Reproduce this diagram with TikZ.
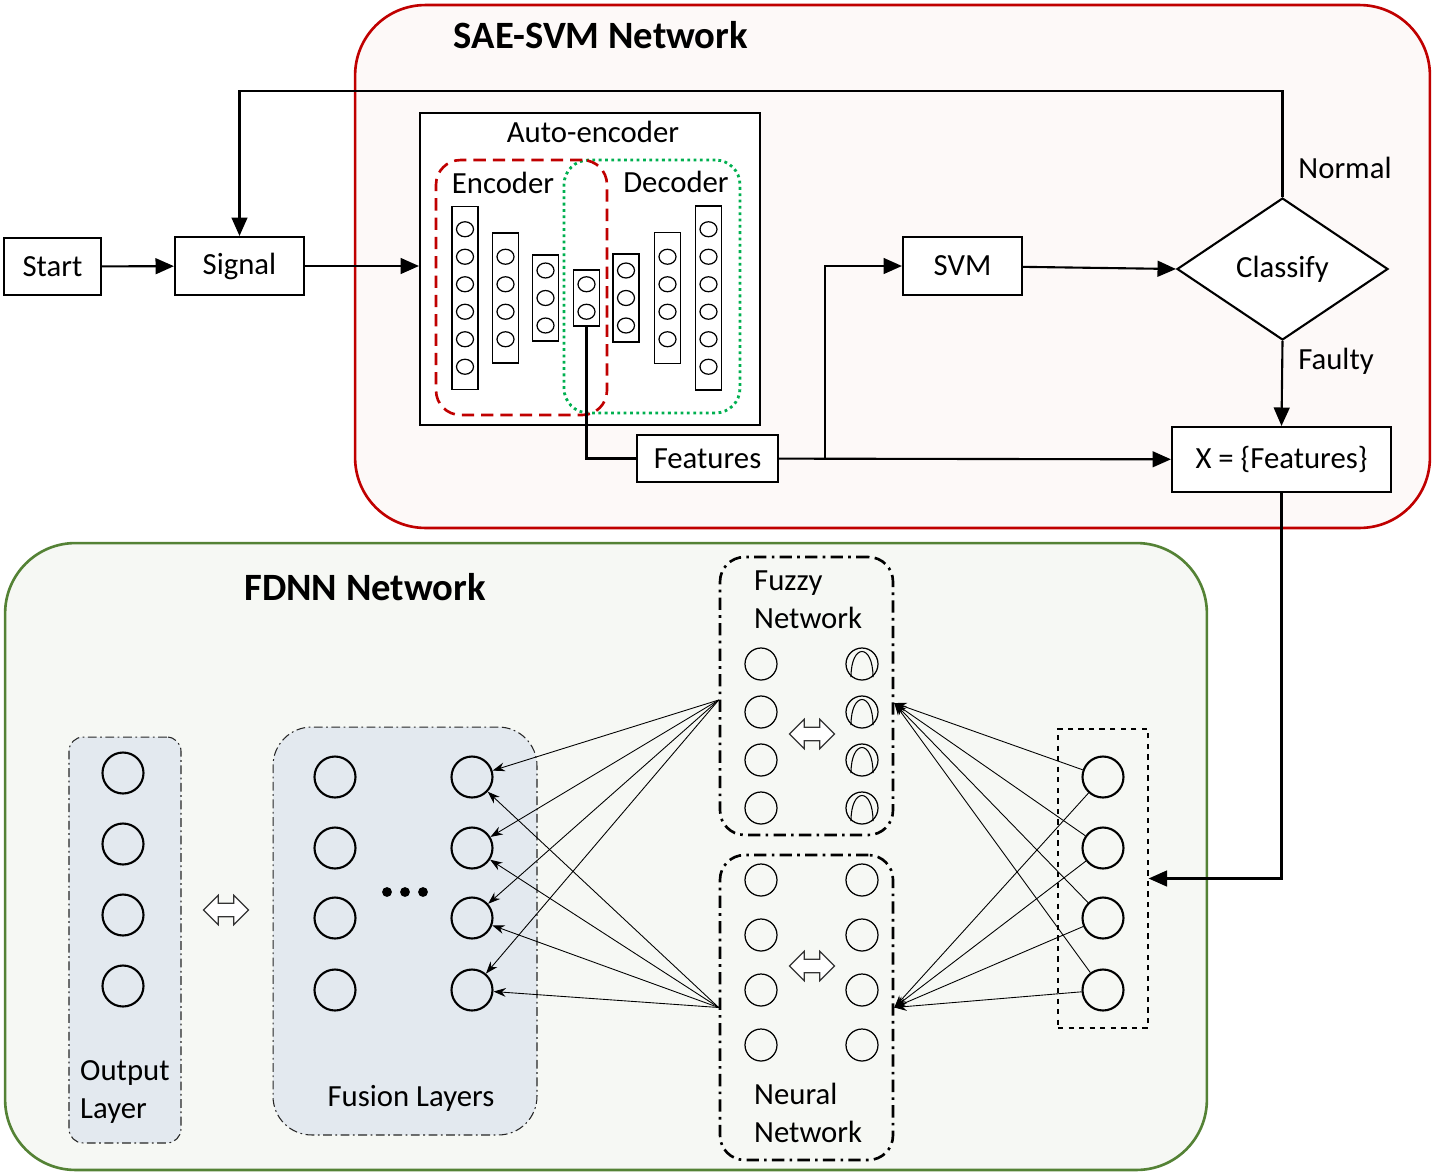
\documentclass[tikz,border=0pt]{standalone}
\usepackage{fontspec}
\setmainfont{Carlito}
\usepackage{tikz}
\usetikzlibrary{shapes.geometric,shapes.arrows,arrows.meta,calc}

\definecolor{saered}{HTML}{C00000}
\definecolor{saefill}{HTML}{FDF9F8}
\definecolor{fdnngreen}{HTML}{548235}
\definecolor{fdnnfill}{HTML}{F6F8F4}
\definecolor{layerfill}{HTML}{E3E9EF}
\definecolor{decgreen}{HTML}{00B050}

\tikzset{
  box/.style={draw, line width=1.2pt, fill=white, inner sep=0pt},
  arr/.style={line width=1.2pt, -{Triangle[length=10.5pt,width=9pt]}},
  thinarr/.style={line width=0.5pt, -{Stealth[length=7pt,width=5pt]}},
  aecirc/.style={draw, ellipse, line width=0.7pt, minimum width=0.34cm, minimum height=0.3cm, inner sep=0pt},
  bigcirc/.style={draw, circle, line width=1.2pt, minimum size=0.82cm, inner sep=0pt},
  smallcirc/.style={draw, circle, line width=0.7pt, minimum size=0.64cm, inner sep=0pt},
  layerbox/.style={draw=black!85, fill=layerfill, line width=0.6pt, dash pattern=on 5pt off 2pt on 1pt off 2pt},
  netbox/.style={draw, line width=1.5pt, dash pattern=on 7pt off 3pt on 1.5pt off 3pt, rounded corners=14pt, minimum width=3.46cm},
  dblarr/.style={double arrow, draw=black!80, fill=white, line width=0.7pt, minimum height=0.9cm, double arrow head extend=4.5pt, inner xsep=0pt, inner ysep=3.5pt}
}

\begin{document}
\begin{tikzpicture}[x=0.02cm, y=-0.02cm, font=\fontsize{17.5}{21.5}\selectfont]

      \useasboundingbox (0,0) rectangle (1434,1174);

      %SAE-SVM network
      \node[draw=saered, fill=saefill, line width=1.5pt, rounded corners=40pt,
            minimum width=21.5cm, minimum height=10.46cm] (sae) at (892.5,266.5) {};
      \node[font=\fontsize{22}{26}\selectfont\bfseries] (saetitle) at (601,35) {SAE-SVM Network};

      %FDNN network
      \node[draw=fdnngreen, fill=fdnnfill, line width=1.5pt, rounded corners=40pt,
            minimum width=24.04cm, minimum height=12.54cm] (fdnn) at (606,856.5) {};
      \node[font=\fontsize{22}{26}\selectfont\bfseries] (fdnntitle) at (365,587) {FDNN Network};

      %Flow chart
      \node[box, minimum width=1.94cm, minimum height=1.14cm] (start) at (52.5,266.5) {Start};
      \node[box, minimum width=2.58cm, minimum height=1.16cm] (sig) at (239.5,266) {Signal};
      \node[box, minimum width=2.38cm, minimum height=1.16cm] (svm) at (962.5,266) {SVM};
      \node[draw, diamond, line width=1.2pt, fill=white, inner sep=0pt,
            minimum width=4.22cm, minimum height=2.84cm] (cls) at (1282.5,269) {Classify};
      \node[box, minimum width=4.38cm, minimum height=1.3cm] (xf) at (1281.5,459.5) {X = \{Features\}};
      \node[box, line width=0.7pt, minimum width=2.82cm, minimum height=0.94cm] (feat) at (707.5,458.5) {Features};
      \node (normal) at (1345,168) {Normal};
      \node (faulty) at (1336,361) {Faulty};

      %Auto-encoder
      \node[box, minimum width=6.8cm, minimum height=6.24cm] (ae) at (590,269) {};
      \node (aelabel) at (593,132) {Auto-encoder};
      \node[draw=decgreen, dotted, line width=1.6pt, rounded corners=14pt,
            minimum width=3.52cm, minimum height=5.06cm] (dec) at (652,286.5) {};
      \node[draw=saered, dash pattern=on 7pt off 4pt, line width=1.5pt, rounded corners=14pt,
            minimum width=3.42cm, minimum height=5.1cm] (enc) at (521.5,287.5) {};
      \node (enclabel) at (503,183) {Encoder};
      \node (declabel) at (676,182) {Decoder};
      \foreach \n/\xpos/\k/\h in {1/465/6/183, 2/505.5/4/130, 3/545.5/3/86, 4/586.5/2/56,
                                  5/626/3/88, 6/667.5/4/131, 7/708.5/6/184} {
        \node[draw, line width=1pt, minimum width=0.52cm, minimum height=\h*0.02cm, inner sep=0pt] (l\n) at (\xpos,298) {};
        \foreach \j in {1,...,\k}
          \node[aecirc] (l\n-\j) at (\xpos,{298+(\j-(\k+1)/2)*27.5}) {};
      }

      %Flow connectors
      \coordinate (ntop) at (760,91);
      \coordinate (br) at (825,458.5);
      \draw[arr] (start) -- (sig);
      \draw[arr] (sig) -- (sig -| ae.west);
      \draw[arr] (svm) -- (cls.west);
      \draw[arr] (cls.north) |- (ntop) -| (sig.north);
      \draw[arr] (cls.south) -- (xf.north);
      \draw[line width=1.2pt] (l4.south) |- (feat.west);
      \draw[arr] (feat) -- (xf);
      \draw[arr] (br) |- (svm.west);

      %Output layer
      \node[layerbox, rounded corners=8pt, minimum width=2.24cm, minimum height=8.12cm] (outl) at (125,940) {};
      \foreach \j/\ypos in {1/773, 2/844, 3/915, 4/986}
        \node[bigcirc] (o\j) at (123,\ypos) {};
      \node[anchor=west, align=left] (outlabel) at (74,1092) {Output\\Layer};
      \node[dblarr] (da1) at (226,910) {};

      %Fusion layers
      \node[layerbox, rounded corners=22pt, minimum width=5.28cm, minimum height=8.16cm] (fus) at (405,931) {};
      \foreach \j/\ypos in {1/777, 2/848, 3/918, 4/990} {
        \node[bigcirc] (a\j) at (335,\ypos) {};
        \node[bigcirc] (b\j) at (472,\ypos) {};
      }
      \foreach \xpos in {387, 405, 423}
        \fill (\xpos,892) circle (2.8pt);
      \node (fuslabel) at (411,1098) {Fusion Layers};

      %Fuzzy network
      \node[netbox, minimum height=5.56cm] (fz) at (806.5,696) {};
      \node[anchor=west, align=left] (fzlabel) at (748,600) {Fuzzy\\Network};
      \foreach \j/\ypos in {1/664, 2/712, 3/760, 4/808} {
        \node[smallcirc] (fl\j) at (761,\ypos) {};
        \node[smallcirc] (fr\j) at (862,\ypos) {};
        \draw[line width=0.6pt, shift={(fr\j.center)}] (-11,13) .. controls (-11,-21) and (11,-21) .. (11,13);
      }
      \node[dblarr] (da2) at (812,734) {};

      %Neural network
      \node[netbox, minimum height=6.1cm] (nn) at (806.5,1007.5) {};
      \node[anchor=west, align=left] (nnlabel) at (748,1113) {Neural\\Network};
      \foreach \j/\ypos in {1/880, 2/935, 3/990, 4/1045} {
        \node[smallcirc] (nl\j) at (761,\ypos) {};
        \node[smallcirc] (nr\j) at (862,\ypos) {};
      }
      \node[dblarr] (da3) at (812,966) {};

      %Input layer
      \node[draw, dashed, line width=0.7pt, minimum width=1.8cm, minimum height=5.98cm] (inp) at (1103,878.5) {};
      \foreach \j/\ypos in {1/777, 2/848, 3/918, 4/990}
        \node[bigcirc] (i\j) at (1103,\ypos) {};
      \draw[arr] (xf.south) |- (inp.east);

      %Network connectors
      \foreach \j in {1,...,4} {
        \draw[thinarr] (i\j) -- ($(fz.east)+(0,7)$);
        \draw[thinarr] (i\j) -- (nn.east);
        \draw[thinarr] ($(fz.west)+(0,4)$) -- (b\j);
        \draw[thinarr] (nn.west) -- (b\j);
      }
\end{tikzpicture}
\end{document}
